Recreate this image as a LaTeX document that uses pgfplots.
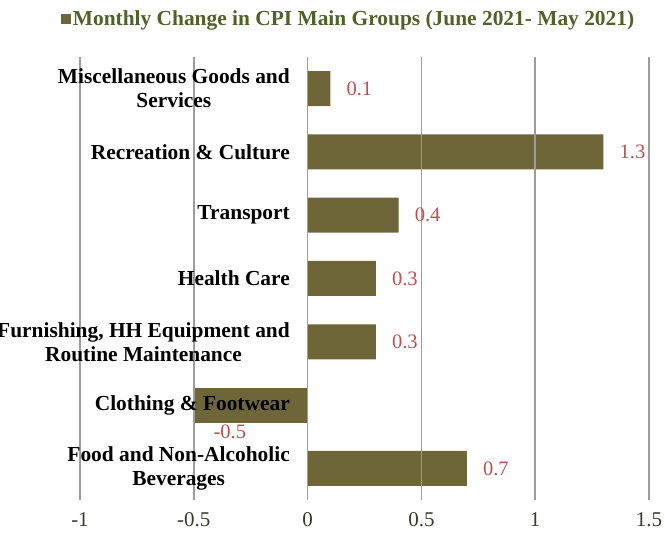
\documentclass[border=0pt]{standalone}
\usepackage{pgfplots}
\pgfplotsset{compat=1.18}
\usepackage{fontspec}
\setmainfont{Liberation Serif}
\definecolor{barolive}{HTML}{6E6639}
\definecolor{titlegreen}{HTML}{4F6228}
\definecolor{valred}{HTML}{C0504D}
\definecolor{gridgray}{HTML}{9C9C9C}
\definecolor{ticktext}{HTML}{3B3A2C}
\begin{document}
\begin{tikzpicture}
\path[use as bounding box] (-80pt,-40pt) rectangle (585pt,500pt);
\begin{axis}[
    at={(0pt,0pt)}, anchor=south west,
    scale only axis,
    width=569pt, height=443pt,
    xbar, bar width=35pt, bar shift=0pt,
    xmin=-1, xmax=1.5,
    ymin=-0.5, ymax=6.5,
    xtick={-1,-0.5,0,0.5,1,1.5},
    xticklabels={-1,-0.5,0,0.5,1,1.5},
    ytick={0,1,2,3,4,5,6},
    yticklabels={{Food and Non-Alcoholic\\Beverages},
                 {Clothing \& Footwear},
                 {Furnishing, HH Equipment and\\Routine Maintenance},
                 {Health Care},
                 {Transport},
                 {Recreation \& Culture},
                 {Miscellaneous Goods and\\Services}},
    yticklabel style={font=\fontsize{21.4}{24}\selectfont\bfseries, align=center,
        anchor=east, inner sep=0pt, xshift=210pt},
    xticklabel style={font=\fontsize{21}{24}\selectfont, text=ticktext,
        inner sep=0pt, anchor=center, yshift=-20pt},
    major tick length=0pt,
    axis line style={draw=none},
    xmajorgrids, grid style={draw=gridgray, line width=1.5pt},
    axis on top,
    legend style={at={(axis description cs:0.472,1.086)}, anchor=center,
        draw=none, fill=none, inner sep=0pt,
        font=\fontsize{21.4}{24}\selectfont\bfseries, text=titlegreen,
        nodes={inner sep=2pt}},
    legend image code/.code={\fill[barolive] (-3pt,-5pt) rectangle (7pt,5pt);},
    nodes near coords={\pgfmathprintnumber[assume math mode=true]{\pgfplotspointmeta}},
    every node near coord/.append style={font=\fontsize{20.5}{24}\selectfont,
        text=valred, inner sep=0pt},
]
\addplot[fill=barolive, draw=none,
    every node near coord/.append style={anchor=west, xshift=16pt}]
    coordinates {(0.7,0) (0.3,2) (0.3,3) (0.4,4) (1.3,5) (0.1,6)};
\addlegendentry{Monthly Change in CPI Main Groups (June 2021- May 2021)}
\addplot[fill=barolive, draw=none, forget plot,
    every node near coord/.append style={anchor=center, xshift=36pt, yshift=-27pt}]
    coordinates {(-0.5,1)};
\end{axis}
\end{tikzpicture}
\end{document}
